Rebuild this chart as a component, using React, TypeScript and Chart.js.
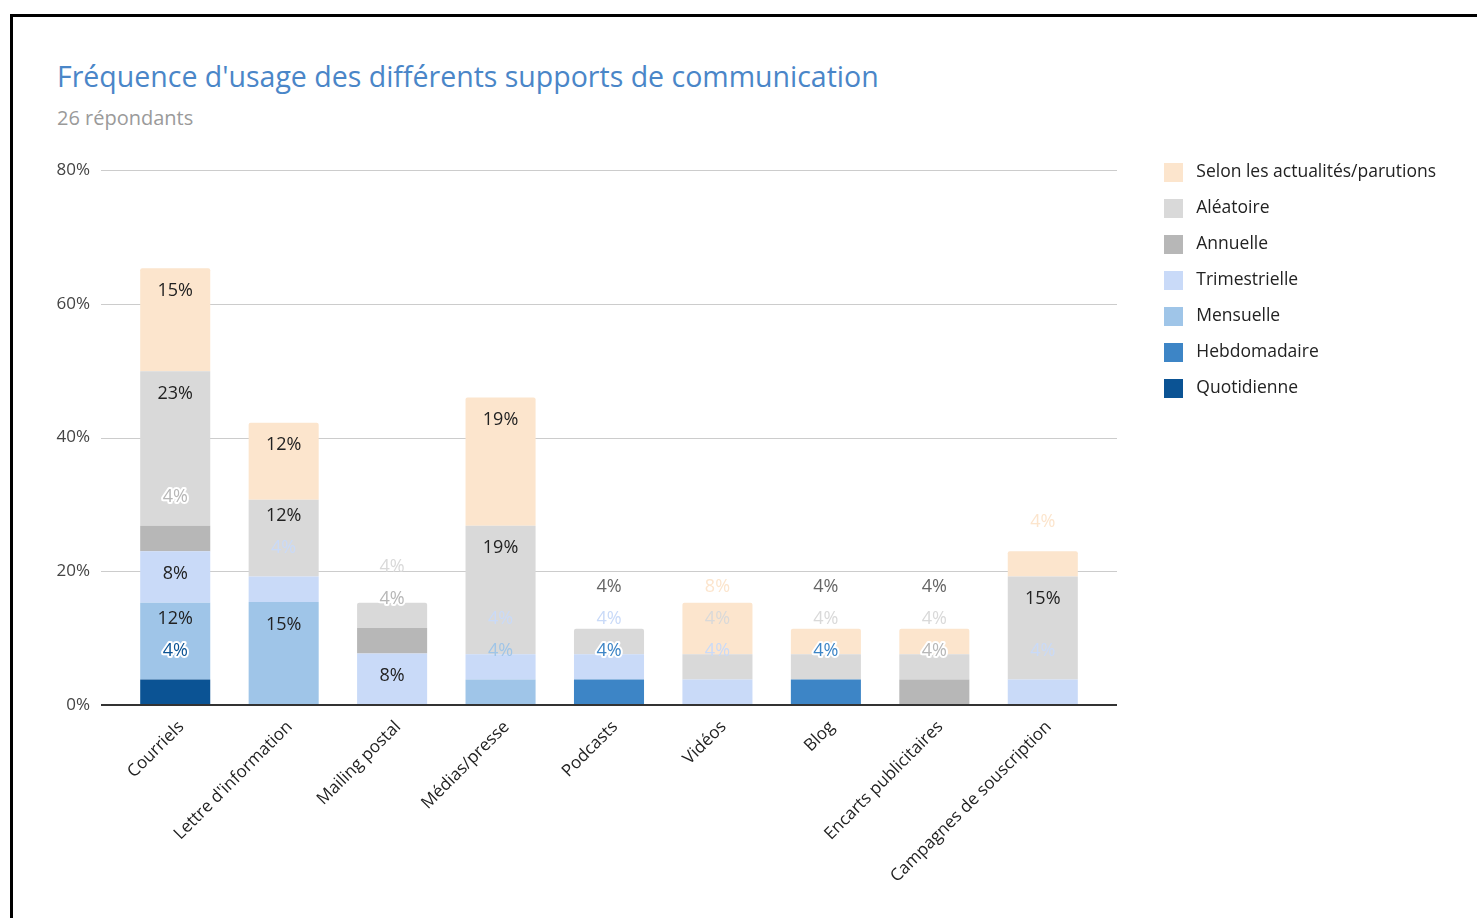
import React, { useEffect, useRef } from 'react';
import { Chart, registerables } from 'chart.js';

Chart.register(...registerables);
Chart.defaults.font.family = "'Open Sans', sans-serif";

// ---- Data (percent of 26 respondents) ----
const categories = [
  'Courriels',
  "Lettre d'information",
  'Mailing postal',
  'Médias/presse',
  'Podcasts',
  'Vidéos',
  'Blog',
  'Encarts publicitaires',
  'Campagnes de souscription',
];

const quotidienne = [3.8, 0, 0, 0, 0, 0, 0, 0, 0];
const hebdomadaire = [0, 0, 0, 0, 3.8, 0, 3.8, 0, 0];
const mensuelle = [11.5, 15.4, 0, 3.8, 0, 0, 0, 0, 0];
const trimestrielle = [7.7, 3.8, 7.7, 3.8, 3.8, 3.8, 0, 0, 3.8];
const annuelle = [3.8, 0, 3.8, 0, 0, 0, 0, 3.8, 0];
const aleatoire = [23.1, 11.5, 3.8, 19.2, 3.8, 3.8, 3.8, 3.8, 15.4];
const selonActualites = [15.4, 11.5, 0, 19.2, 0, 7.7, 3.8, 3.8, 3.8];

const seriesNames = [
  'Quotidienne',
  'Hebdomadaire',
  'Mensuelle',
  'Trimestrielle',
  'Annuelle',
  'Aléatoire',
  'Selon les actualités/parutions',
];
const seriesValues = [quotidienne, hebdomadaire, mensuelle, trimestrielle, annuelle, aleatoire, selonActualites];
const seriesColors = ['#0b5394', '#3d85c6', '#9fc5e8', '#c9daf8', '#b7b7b7', '#d9d9d9', '#fce5cd'];
const haloSeries = ['Quotidienne', 'Hebdomadaire', 'Annuelle'];

const yMax = 80;
const yStep = 20;

const titleText = "Fréquence d'usage des différents supports de communication";
const subtitleText = '26 répondants';

// labels drawn outside in dark grey in the reference
const darkOutsideLabels = [
  ['Podcasts', 'Aléatoire'],
  ['Blog', 'Selon les actualités/parutions'],
  ['Encarts publicitaires', 'Selon les actualités/parutions'],
];

const gridPlugin = {
  id: 'gridExt',
  beforeDatasetsDraw(chart: any) {
    const { ctx, chartArea } = chart;
    const y = chart.scales.y;
    ctx.save();
    ctx.strokeStyle = '#cccccc';
    ctx.lineWidth = 1;
    y.ticks.forEach((t: any) => {
      if (t.value === 0) return;
      const py = Math.round(y.getPixelForValue(t.value)) + 0.5;
      ctx.beginPath();
      ctx.moveTo(chartArea.left - 20, py);
      ctx.lineTo(chartArea.right + 20, py);
      ctx.stroke();
    });
    ctx.restore();
  },
  afterDatasetsDraw(chart: any) {
    const { ctx, chartArea } = chart;
    const y = chart.scales.y;
    const py = Math.round(y.getPixelForValue(0));
    ctx.save();
    ctx.strokeStyle = '#333333';
    ctx.lineWidth = 2;
    ctx.beginPath();
    ctx.moveTo(chartArea.left - 20, py);
    ctx.lineTo(chartArea.right + 20, py);
    ctx.stroke();
    ctx.restore();
  },
};

const labelPlugin = {
  id: 'segLabels',
  afterDatasetsDraw(chart: any) {
    const ctx = chart.ctx;
    ctx.save();
    ctx.font = "18px 'Open Sans', sans-serif";
    ctx.textAlign = 'center';
    ctx.textBaseline = 'middle';
    ctx.lineJoin = 'round';
    categories.forEach((cat, i) => {
      let prevY = Infinity;
      chart.data.datasets.forEach((ds: any, di: number) => {
        const v = ds.data[i];
        if (!v) return;
        const el = chart.getDatasetMeta(di).data[i];
        const top = el.y;
        const bottom = el.base;
        const h = bottom - top;
        const big = h >= 40;
        const pref = big ? top + 22.5 : top - 29;
        const y = Math.min(pref, prevY - 32);
        prevY = y;
        const inside = big && y - 8 >= top && y + 8 <= bottom;
        const text = Math.round(v) + '%';
        const x = el.x;
        if (inside) {
          ctx.fillStyle = '#222222';
          ctx.fillText(text, x, y);
        } else {
          const dark = darkOutsideLabels.some(([c, s]) => c === cat && s === ds.label);
          if (haloSeries.includes(ds.label)) {
            ctx.strokeStyle = '#ffffff';
            ctx.lineWidth = 4;
            ctx.strokeText(text, x, y);
          }
          ctx.fillStyle = dark ? '#666666' : (ds.backgroundColor as string);
          ctx.fillText(text, x, y);
        }
      });
    });
    ctx.restore();
  },
};

const legendFitPlugin = {
  id: 'legendFit',
  afterInit(chart: any) {
    const lg = chart.legend;
    if (!lg) return;
    const orig = lg.fit;
    lg.fit = function () {
      orig.call(this);
      this.width = 330;
    };
  },
};

export default function App() {
  const ref = useRef<HTMLCanvasElement>(null);

  useEffect(() => {
    if (!ref.current) return;
    const chart = new Chart(ref.current, {
      type: 'bar',
      data: {
        labels: categories,
        datasets: seriesNames.map((name, k) => ({
          label: name,
          data: seriesValues[k],
          backgroundColor: seriesColors[k],
          borderWidth: 0,
          borderRadius: 2,
          barPercentage: 0.646,
          categoryPercentage: 1,
        })),
      },
      options: {
        animation: false,
        responsive: false,
        devicePixelRatio: 1,
        layout: { padding: { top: 6, left: 0, right: 0, bottom: 0 } },
        plugins: {
          tooltip: { enabled: false },
          title: { display: false },
          legend: {
            position: 'right',
            align: 'start',
            reverse: true,
            labels: {
              boxWidth: 19,
              boxHeight: 19,
              padding: 17,
              color: '#222222',
              font: { size: 17.5 },
              generateLabels: (c: any) =>
                Chart.defaults.plugins.legend.labels.generateLabels(c).map((it: any) => ({
                  ...it,
                  text: ' ' + it.text,
                  lineWidth: 0,
                })),
            },
          },
        },
        scales: {
          x: {
            stacked: true,
            grid: { display: false, drawTicks: false },
            border: { display: false },
            ticks: {
              font: { size: 17 },
              color: '#222222',
              maxRotation: 45,
              minRotation: 45,
              padding: 12,
              labelOffset: 6,
              autoSkip: false,
            },
            afterFit: (s: any) => {
              s.height = 213;
            },
          },
          y: {
            stacked: true,
            min: 0,
            max: yMax,
            grid: { display: false, drawTicks: false },
            border: { display: false },
            ticks: {
              stepSize: yStep,
              padding: 31,
              color: '#444444',
              font: { size: 17 },
              callback: (v: any) => v + '%',
            },
            afterFit: (s: any) => {
              s.width = 121;
              s.paddingTop = 0;
              s.paddingBottom = 0;
            },
          },
          yPad: {
            position: 'right',
            display: true,
            grid: { display: false, drawTicks: false },
            border: { display: false },
            ticks: { display: false },
            afterFit: (s: any) => {
              s.width = 50;
              s.paddingTop = 0;
              s.paddingBottom = 0;
            },
          },
          xPad: {
            position: 'top',
            display: true,
            grid: { display: false, drawTicks: false },
            border: { display: false },
            ticks: { display: false },
            afterFit: (s: any) => {
              s.height = 24;
              s.paddingLeft = 0;
              s.paddingRight = 0;
            },
          },
        },
      } as any,
      plugins: [gridPlugin, labelPlugin, legendFitPlugin],
    });
    return () => chart.destroy();
  }, []);

  return (
    <div
      style={{
        position: 'absolute',
        left: 0,
        top: 0,
        width: 1477,
        height: 918,
        overflow: 'hidden',
        background: '#ffffff',
      }}
    >
      <div
        style={{
          position: 'absolute',
          left: 10,
          top: 14,
          width: 1600,
          height: 1000,
          borderTop: '3px solid #000',
          borderLeft: '3px solid #000',
        }}
      />
      <div
        style={{
          position: 'absolute',
          left: 57,
          top: 57,
          fontFamily: "'Open Sans', sans-serif",
          fontSize: 28.5,
          lineHeight: '38px',
          color: '#4a86c8',
          whiteSpace: 'nowrap',
        }}
      >
        {titleText}
      </div>
      <div
        style={{
          position: 'absolute',
          left: 57,
          top: 104,
          fontFamily: "'Open Sans', sans-serif",
          fontSize: 20,
          lineHeight: '27px',
          color: '#9a9a9a',
          whiteSpace: 'nowrap',
        }}
      >
        {subtitleText}
      </div>
      <canvas
        ref={ref}
        width={1477}
        height={778}
        style={{ position: 'absolute', left: 0, top: 140, width: 1477, height: 778 }}
      />
    </div>
  );
}
